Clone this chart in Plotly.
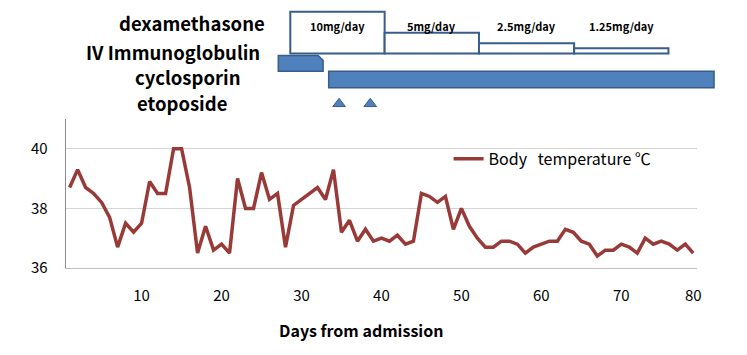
import plotly.graph_objects as go

# ---------------- data ----------------
day_labels = ["1", "2", "3", "4", "5", "6", "7", "8", "9", "10",
              "11", "12", "13", "14", "15", "16", "17", "18", "19", "20",
              "21", "22", "23", "24", "25", "26", "27", "28", "29", "30",
              "31", "32", "33", "34", "35", "36", "37", "38", "39", "40",
              "41", "42", "43", "44", "45", "46", "47", "48", "49", "50",
              "51", "52", "53", "54", "55", "56", "57", "58", "59", "60",
              "61", "62", "63", "64", "65", "66", "67", "68", "69", "70",
              "71", "72", "73", "74", "76", "77", "78", "79", "80"]
body_temp = [38.7, 39.3, 38.7, 38.5, 38.2, 37.7, 36.7, 37.5, 37.2, 37.5,
             38.9, 38.5, 38.5, 40.0, 40.0, 38.7, 36.5, 37.4, 36.6, 36.8,
             36.5, 39.0, 38.0, 38.0, 39.2, 38.3, 38.5, 36.7, 38.1, 38.3,
             38.5, 38.7, 38.3, 39.3, 37.2, 37.6, 36.9, 37.3, 36.9, 37.0,
             36.9, 37.1, 36.8, 36.9, 38.5, 38.4, 38.2, 38.4, 37.3, 38.0,
             37.4, 37.0, 36.7, 36.7, 36.9, 36.9, 36.8, 36.5, 36.7, 36.8,
             36.9, 36.9, 37.3, 37.2, 36.9, 36.8, 36.4, 36.6, 36.6, 36.8,
             36.7, 36.5, 37.0, 36.8, 36.9, 36.8, 36.6, 36.8, 36.5]
tick_labels = ["10", "20", "30", "40", "50", "60", "70", "80"]
y_ticks = [36, 38, 40]

# treatment timeline (in chart position units: n-th plotted day = n)
dex_doses = [10, 5, 2.5, 1.25]
dex_labels = ["10mg/day", "5mg/day", "2.5mg/day", "1.25mg/day"]
dex_start = [28.6, 40.4, 52.2, 64.1]
dex_end = [40.4, 52.2, 64.1, 75.9]
ivig_span = [27.1, 32.7]
cyclosporin_span = [33.4, 81.6]
etoposide_days = [34.7, 38.6]

# ---------------- layout helpers ----------------
W, H = 747, 355
PL, PR, PT, PB = 66, 701, 122, 275
n = len(day_labels)
bw = (PR - PL) / n          # pixel width of one category


def fx(px):
    return px / W


def fy(py):
    return 1 - py / H


FONT = "Noto Sans CJK KR, Noto Sans, sans-serif"
LINE_RED = "#983A37"
BLUE_FILL = "#4F81BD"
BLUE_LINE = "#385D8A"

fig = go.Figure()
fig.add_trace(go.Scatter(
    x=day_labels, y=body_temp, mode="lines",
    line=dict(color=LINE_RED, width=3.5),
    name="Body\u00a0\u00a0 temperature \u2103",
    xaxis="x", yaxis="y",
))

# etoposide arrowheads
fig.add_trace(go.Scatter(
    x=etoposide_days, y=[106.5] * len(etoposide_days), mode="markers",
    marker=dict(symbol="triangle-up", size=11, color=BLUE_FILL,
                line=dict(color=BLUE_LINE, width=1)),
    xaxis="x2", yaxis="y2", showlegend=False, hoverinfo="skip", cliponaxis=False,
))

shapes = []
# dexamethasone step boxes (height proportional to dose)
dex_bottom = 55
for d0, d1, dose in zip(dex_start, dex_end, dex_doses):
    shapes.append(dict(type="rect", xref="x2", yref="y2",
                       x0=d0, x1=d1, y0=dex_bottom, y1=dex_bottom - 4.3 * dose,
                       line=dict(color=BLUE_LINE, width=2), fillcolor="white",
                       layer="above"))
# IV immunoglobulin (snipped corner)
c = 5 / bw
a0, a1 = ivig_span
shapes.append(dict(type="path", xref="x2", yref="y2",
                   path=f"M{a0},73 L{a0},57 L{a1 - c},57 L{a1},62 L{a1},73 Z",
                   line=dict(color=BLUE_LINE, width=1.5), fillcolor=BLUE_FILL))
# cyclosporin
shapes.append(dict(type="rect", xref="x2", yref="y2",
                   x0=cyclosporin_span[0], x1=cyclosporin_span[1], y0=73, y1=90,
                   line=dict(color=BLUE_LINE, width=1.5), fillcolor=BLUE_FILL))

annotations = []
row_labels = [("dexamethasone", 193, 24), ("IV Immunoglobulin", 173.5, 53.5),
              ("cyclosporin", 189, 79.3), ("etoposide", 183, 105.2)]
for txt, cx, cy in row_labels:
    annotations.append(dict(text=f"<b>{txt}</b>", xref="paper", yref="paper",
                            x=fx(cx), y=fy(cy), xanchor="center", yanchor="middle",
                            showarrow=False, font=dict(family=FONT, size=18.5, color="black")))
for d0, d1, lab in zip(dex_start, dex_end, dex_labels):
    annotations.append(dict(text=f"<b>{lab}</b>", xref="x2", yref="paper",
                            x=(d0 + d1) / 2, y=fy(27), xanchor="center", yanchor="middle",
                            showarrow=False, font=dict(family=FONT, size=11, color="black")))
annotations.append(dict(text="<b>Days from admission</b>", xref="paper", yref="paper",
                        x=fx(363), y=fy(339), xanchor="center", yanchor="middle",
                        showarrow=False, font=dict(family=FONT, size=16, color="black")))

x2_lo = 0.5 - PL / bw
x2_hi = 0.5 + (W - PL) / bw

fig.update_layout(
    width=W, height=H,
    margin=dict(l=0, r=0, t=0, b=0),
    paper_bgcolor="white", plot_bgcolor="rgba(0,0,0,0)",
    font=dict(family=FONT, size=15, color="black"),
    showlegend=True,
    legend=dict(x=fx(451), y=fy(163), xanchor="left", yanchor="middle",
                bgcolor="rgba(0,0,0,0)", font=dict(family=FONT, size=16, color="black")),
    xaxis=dict(domain=[fx(PL), fx(PR)], type="category",
               categoryorder="array", categoryarray=day_labels,
               range=[-0.5, n - 0.5], tickmode="array", tickvals=tick_labels,
               ticktext=tick_labels, showgrid=False, zeroline=False,
               showline=True, linecolor="#BFBFBF", linewidth=1,
               ticks="outside", ticklen=14, tickcolor="rgba(0,0,0,0)",
               tickfont=dict(family=FONT, size=15, color="black"),
               anchor="y", fixedrange=True),
    yaxis=dict(domain=[fy(PB), fy(PT)], range=[36, 41], tickvals=y_ticks,
               showgrid=True, gridcolor="#D4D4D4", gridwidth=1, zeroline=False,
               showline=True, linecolor="#8C8C8C", linewidth=1,
               ticks="outside", ticklen=14, tickcolor="rgba(0,0,0,0)",
               tickfont=dict(family=FONT, size=15, color="black"),
               anchor="x", fixedrange=True),
    xaxis2=dict(domain=[0, 1], range=[x2_lo, x2_hi], visible=False,
                anchor="y2", fixedrange=True),
    yaxis2=dict(domain=[0, 1], range=[H, 0], visible=False,
                anchor="x2", fixedrange=True),
    shapes=shapes,
    annotations=annotations,
)

fig.write_html(
    "out.html",
    config={"displayModeBar": False},
    post_script="document.body.style.margin='0';document.body.style.overflow='hidden';",
)
